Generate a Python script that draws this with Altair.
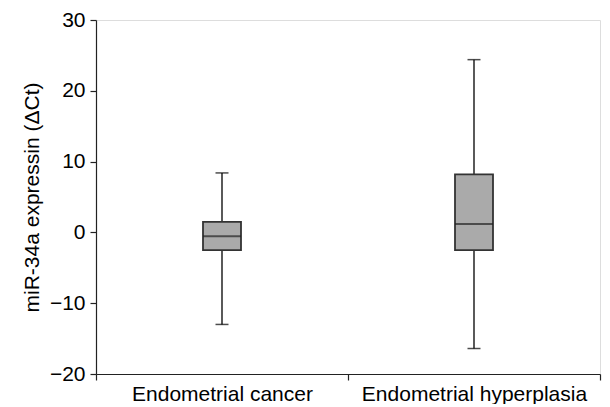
import altair as alt
import pandas as pd

groups = ["Endometrial cancer", "Endometrial hyperplasia"]
whisker_low = [-13.0, -16.4]
q1 = [-2.5, -2.5]
median = [-0.55, 1.2]
q3 = [1.5, 8.2]
whisker_high = [8.4, 24.4]

df = pd.DataFrame({
    "group": groups, "lo": whisker_low, "q1": q1, "med": median,
    "q3": q3, "hi": whisker_high,
})

FONT = "Liberation Sans"
FS = 21
x = alt.X("group:N", sort=groups, title=None,
          scale=alt.Scale(paddingInner=0, paddingOuter=0),
          axis=alt.Axis(labelAngle=0, tickBand="extent", labelFontSize=FS,
                        labelFont=FONT, labelColor="black", domainColor="#222",
                        tickColor="#222", tickSize=6, labelPadding=3, labelLimit=0,
                        domainWidth=1.2, tickWidth=1.2))
yscale = alt.Scale(domain=[-20, 30], nice=False, zero=False)
yaxis = alt.Axis(values=[-20, -10, 0, 10, 20, 30], grid=False, labelFontSize=FS,
                 labelFont=FONT, labelColor="black", domainColor="#222",
                 tickColor="#222", tickSize=6, labelPadding=5,
                 title="miR-34a expressin (\u0394Ct)", titleFont=FONT,
                 titleFontSize=FS, titleFontWeight="normal", titleColor="black",
                 titlePadding=7, domainWidth=1.2, tickWidth=1.2)

base = alt.Chart(df).encode(x=x)

whisker = base.mark_rule(color="black", strokeWidth=1.3).encode(
    y=alt.Y("lo:Q", scale=yscale, axis=yaxis), y2="hi:Q")
box = base.mark_bar(size=38, color="#aaaaaa", stroke="#333333", strokeWidth=1.8).encode(
    y=alt.Y("q1:Q", scale=yscale), y2="q3:Q")
med = base.mark_tick(size=38, thickness=2, color="#222222").encode(
    y=alt.Y("med:Q", scale=yscale))
cap_lo = base.mark_tick(size=13, thickness=1.5, color="black").encode(
    y=alt.Y("lo:Q", scale=yscale))
cap_hi = base.mark_tick(size=13, thickness=1.5, color="black").encode(
    y=alt.Y("hi:Q", scale=yscale))

chart = alt.layer(whisker, box, med, cap_lo, cap_hi).properties(
    width=504, height=354,
    autosize=alt.AutoSizeParams(type="none"),
    padding={"left": 88, "top": 12, "right": 2, "bottom": 30},
).configure_view(stroke=None).configure(background="white")

chart.save("out.html", embed_options={"renderer": "svg", "actions": False})
